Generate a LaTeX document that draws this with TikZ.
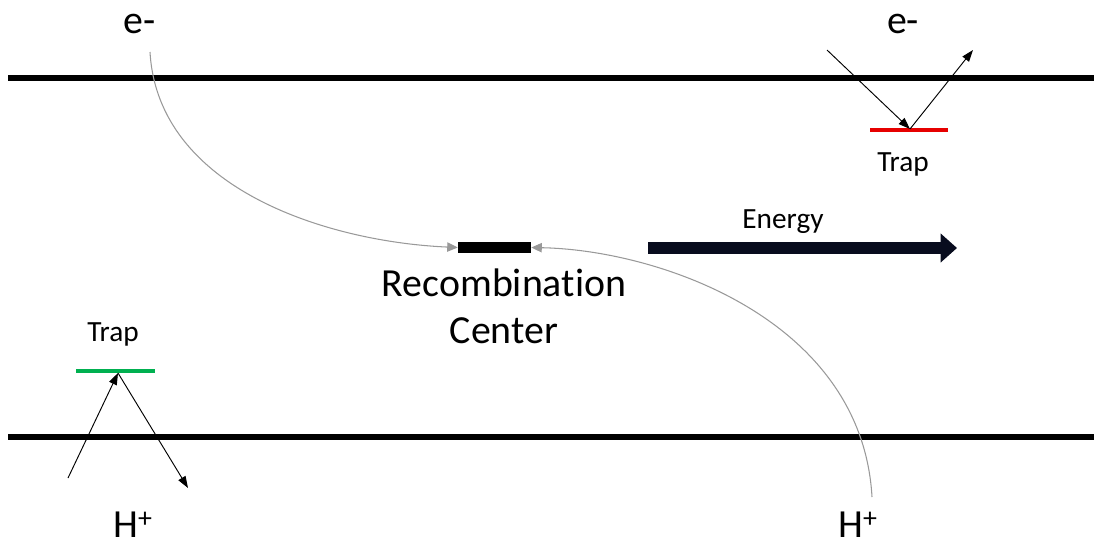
\documentclass[tikz,border=0pt]{standalone}
\usepackage{fontspec}
\setmainfont[Ligatures=NoCommon]{Carlito}
\usetikzlibrary{arrows.meta}
\definecolor{trapred}{RGB}{230,0,0}
\definecolor{trapgreen}{RGB}{0,176,80}
\definecolor{energyc}{RGB}{8,12,30}
\begin{document}
\begin{tikzpicture}[x=0.03cm,y=-0.03cm,
  band/.style={line width=5.1pt},
  lbl/.style={font=\fontsize{34}{40}\selectfont, inner sep=0pt},
  small/.style={font=\fontsize{25}{28}\selectfont, inner sep=0pt},
  path/.style={draw=gray!80, line width=0.9pt, -{Triangle[length=9pt,width=8pt]}},
  hop/.style={draw=black, line width=0.8pt, -{Triangle[length=10pt,width=7pt]}}]
\useasboundingbox (0,0) rectangle (1094,550);
% bands
\coordinate (cbl) at (8,78); \coordinate (cbr) at (1094,78);
\coordinate (vbl) at (8,437); \coordinate (vbr) at (1094,437);
\draw[band] (cbl) -- (cbr);
\draw[band] (vbl) -- (vbr);
% labels
\node[lbl] (e1) at (140,24) {e-};
\node[lbl] (e2) at (903,24) {e-};
\node[lbl] (h1) at (133,525) {H\textsuperscript{+}};
\node[lbl] (h2) at (858,525) {H\textsuperscript{+}};
% recombination center
\node[fill=black, minimum width=2.19cm, minimum height=0.33cm, inner sep=0pt] (rc) at (494.5,247.5) {};
\node[lbl, align=center] (rct) at (504,306) {Recombination\\Center};
% curves
\coordinate (s1) at (150,52);
\coordinate (s2) at (872,497);
\draw[path] (s1) .. controls (158,190) and (330,242) .. (rc.west);
\draw[path] (s2) .. controls (862,320) and (660,250) .. (rc.east);
% energy arrow
\coordinate (en1) at (648,248); \coordinate (en2) at (957,248);
\draw[line width=10pt, -{Triangle[length=14pt,width=24pt]}, draw=energyc] (en1) -- (en2);
\node[small] (entxt) at (783,222) {Energy};
% red trap
\coordinate (rt1) at (870,130); \coordinate (rt2) at (948,130);
\draw[trapred, line width=4pt] (rt1) -- (rt2);
\node[small] (rtt) at (903,164) {Trap};
\coordinate (rin) at (827,50); \coordinate (rhit) at (910,129); \coordinate (rout) at (973,50);
\draw[hop] (rin) -- (rhit);
\draw[hop] (rhit) -- (rout);
% green trap
\coordinate (gt1) at (76,371); \coordinate (gt2) at (155,371);
\draw[trapgreen, line width=4pt] (gt1) -- (gt2);
\node[small] (gtt) at (113,334) {Trap};
\coordinate (gin) at (68,478); \coordinate (ghit) at (118,373); \coordinate (gout) at (188,488);
\draw[hop] (gin) -- (ghit);
\draw[hop] (ghit) -- (gout);
\end{tikzpicture}
\end{document}
